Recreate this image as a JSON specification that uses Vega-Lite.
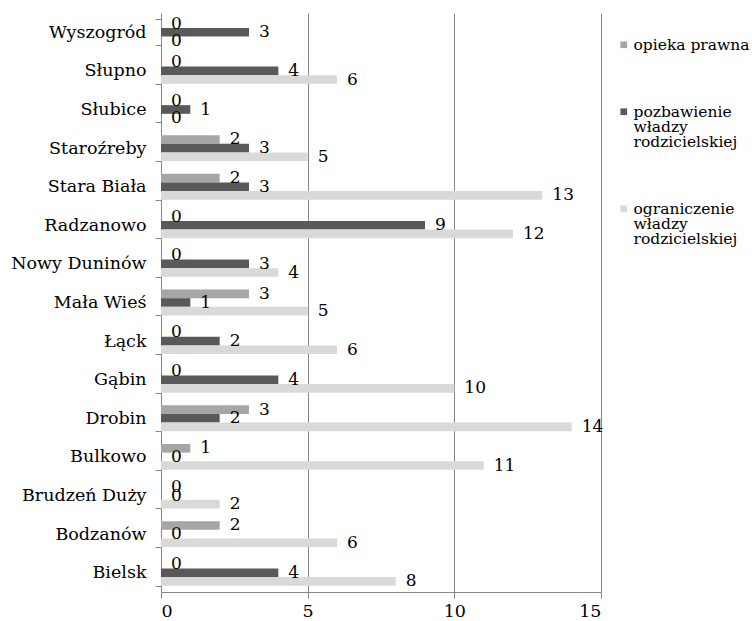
{
  "$schema": "https://vega.github.io/schema/vega-lite/v6.json",
  "autosize": "none",
  "width": 440,
  "height": 579,
  "padding": {"left": 161, "top": 13, "right": 151, "bottom": 29},
  "background": "white",
  "config": {
    "view": {"stroke": null},
    "axis": {"labelFont": "DejaVu Serif", "labelFontSize": 17.5, "labelColor": "#000000", "domainColor": "#878787", "tickColor": "#878787", "gridColor": "#878787", "title": null},
    "legend": {"labelFont": "DejaVu Serif", "labelFontSize": 15.5, "labelColor": "#000000"}
  },
  "data": {
    "values": [
      {"gmina": "Wyszogród", "s": "opieka prawna", "v": 0},
      {"gmina": "Wyszogród", "s": "pozbawienie władzy rodzicielskiej", "v": 3},
      {"gmina": "Wyszogród", "s": "ograniczenie władzy rodzicielskiej", "v": 0},
      {"gmina": "Słupno", "s": "opieka prawna", "v": 0},
      {"gmina": "Słupno", "s": "pozbawienie władzy rodzicielskiej", "v": 4},
      {"gmina": "Słupno", "s": "ograniczenie władzy rodzicielskiej", "v": 6},
      {"gmina": "Słubice", "s": "opieka prawna", "v": 0},
      {"gmina": "Słubice", "s": "pozbawienie władzy rodzicielskiej", "v": 1},
      {"gmina": "Słubice", "s": "ograniczenie władzy rodzicielskiej", "v": 0},
      {"gmina": "Staroźreby", "s": "opieka prawna", "v": 2},
      {"gmina": "Staroźreby", "s": "pozbawienie władzy rodzicielskiej", "v": 3},
      {"gmina": "Staroźreby", "s": "ograniczenie władzy rodzicielskiej", "v": 5},
      {"gmina": "Stara Biała", "s": "opieka prawna", "v": 2},
      {"gmina": "Stara Biała", "s": "pozbawienie władzy rodzicielskiej", "v": 3},
      {"gmina": "Stara Biała", "s": "ograniczenie władzy rodzicielskiej", "v": 13},
      {"gmina": "Radzanowo", "s": "opieka prawna", "v": 0},
      {"gmina": "Radzanowo", "s": "pozbawienie władzy rodzicielskiej", "v": 9},
      {"gmina": "Radzanowo", "s": "ograniczenie władzy rodzicielskiej", "v": 12},
      {"gmina": "Nowy Duninów", "s": "opieka prawna", "v": 0},
      {"gmina": "Nowy Duninów", "s": "pozbawienie władzy rodzicielskiej", "v": 3},
      {"gmina": "Nowy Duninów", "s": "ograniczenie władzy rodzicielskiej", "v": 4},
      {"gmina": "Mała Wieś", "s": "opieka prawna", "v": 3},
      {"gmina": "Mała Wieś", "s": "pozbawienie władzy rodzicielskiej", "v": 1},
      {"gmina": "Mała Wieś", "s": "ograniczenie władzy rodzicielskiej", "v": 5},
      {"gmina": "Łąck", "s": "opieka prawna", "v": 0},
      {"gmina": "Łąck", "s": "pozbawienie władzy rodzicielskiej", "v": 2},
      {"gmina": "Łąck", "s": "ograniczenie władzy rodzicielskiej", "v": 6},
      {"gmina": "Gąbin", "s": "opieka prawna", "v": 0},
      {"gmina": "Gąbin", "s": "pozbawienie władzy rodzicielskiej", "v": 4},
      {"gmina": "Gąbin", "s": "ograniczenie władzy rodzicielskiej", "v": 10},
      {"gmina": "Drobin", "s": "opieka prawna", "v": 3},
      {"gmina": "Drobin", "s": "pozbawienie władzy rodzicielskiej", "v": 2},
      {"gmina": "Drobin", "s": "ograniczenie władzy rodzicielskiej", "v": 14},
      {"gmina": "Bulkowo", "s": "opieka prawna", "v": 1},
      {"gmina": "Bulkowo", "s": "pozbawienie władzy rodzicielskiej", "v": 0},
      {"gmina": "Bulkowo", "s": "ograniczenie władzy rodzicielskiej", "v": 11},
      {"gmina": "Brudzeń Duży", "s": "opieka prawna", "v": 0},
      {"gmina": "Brudzeń Duży", "s": "pozbawienie władzy rodzicielskiej", "v": 0},
      {"gmina": "Brudzeń Duży", "s": "ograniczenie władzy rodzicielskiej", "v": 2},
      {"gmina": "Bodzanów", "s": "opieka prawna", "v": 2},
      {"gmina": "Bodzanów", "s": "pozbawienie władzy rodzicielskiej", "v": 0},
      {"gmina": "Bodzanów", "s": "ograniczenie władzy rodzicielskiej", "v": 6},
      {"gmina": "Bielsk", "s": "opieka prawna", "v": 0},
      {"gmina": "Bielsk", "s": "pozbawienie władzy rodzicielskiej", "v": 4},
      {"gmina": "Bielsk", "s": "ograniczenie władzy rodzicielskiej", "v": 8}
    ]
  },
  "encoding": {
    "y": {
      "field": "gmina", "type": "nominal",
      "sort": ["Wyszogród", "Słupno", "Słubice", "Staroźreby", "Stara Biała", "Radzanowo", "Nowy Duninów", "Mała Wieś", "Łąck", "Gąbin", "Drobin", "Bulkowo", "Brudzeń Duży", "Bodzanów", "Bielsk"],
      "scale": {"paddingInner": 0.33, "paddingOuter": 0.165},
      "axis": {"tickBand": "extent", "tickSize": 6, "labelPadding": 9, "labelLimit": 200}
    },
    "yOffset": {
      "field": "s", "type": "nominal",
      "sort": ["opieka prawna", "pozbawienie władzy rodzicielskiej", "ograniczenie władzy rodzicielskiej"],
      "scale": {"paddingInner": 0, "paddingOuter": 0}
    },
    "x": {
      "field": "v", "type": "quantitative",
      "scale": {"domain": [0, 15], "nice": false},
      "axis": {"values": [0, 5, 10, 15], "grid": true, "tickSize": 6, "labelPadding": 4}
    }
  },
  "layer": [
    {
      "mark": {"type": "bar"},
      "encoding": {
        "color": {
          "field": "s", "type": "nominal",
          "sort": ["opieka prawna", "pozbawienie władzy rodzicielskiej", "ograniczenie władzy rodzicielskiej"],
          "scale": {"range": ["#a6a6a6", "#595959", "#d9d9d9"]},
          "legend": {
            "title": null,
            "orient": "none",
            "legendX": 455,
            "legendY": 24,
            "symbolType": "square",
            "symbolSize": 45,
            "symbolStrokeWidth": 0,
            "labelOffset": 2,
            "rowPadding": 50,
            "labelLimit": 200,
            "labelExpr": "datum.label == 'opieka prawna' ? datum.label : split(datum.label, ' ')",
            "encoding": {"labels": {"lineHeight": {"value": 15}}}
          }
        }
      }
    },
    {
      "mark": {"type": "text", "align": "left", "baseline": "middle", "dx": 10, "fontSize": 17, "font": "DejaVu Serif", "color": "#000000"},
      "encoding": {
        "text": {"field": "v", "type": "quantitative"}
      }
    }
  ]
}
